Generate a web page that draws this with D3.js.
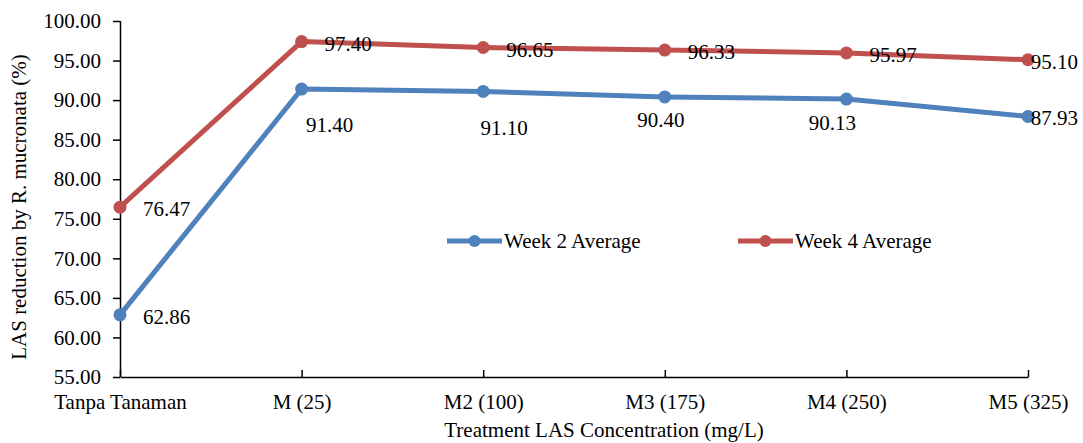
<!DOCTYPE html>
<html>
<head>
<meta charset="utf-8">
<script src="https://cdn.jsdelivr.net/npm/d3@7"></script>
<style>
  html, body { margin: 0; padding: 0; background: #fff; }
  svg { display: block; font-family: "Liberation Serif", "Times New Roman", serif; }
</style>
</head>
<body>
<svg id="chart" width="1083" height="443"></svg>
<script>
// values
const categories = ["Tanpa Tanaman", "M (25)", "M2 (100)", "M3 (175)", "M4 (250)", "M5 (325)"];
const week2 = [62.86, 91.40, 91.10, 90.40, 90.13, 87.93];
const week4 = [76.47, 97.40, 96.65, 96.33, 95.97, 95.10];
const seriesNames = ["Week 2 Average", "Week 4 Average"];
const yTicks = [55, 60, 65, 70, 75, 80, 85, 90, 95, 100];

const W = 1083, H = 443;
const margin = { top: 21, right: 55, bottom: 66, left: 120 };
const colors = ["#4f81bd", "#c0504d"];
const fontSize = 21;

// Excel labels that were dragged below the blue line (relative nudges)
const belowShift = [null, [28, 36], [21, 37], [-4, 23], [-14, 24], null];

const svg = d3.select("#chart");

const x = d3.scalePoint()
    .domain(categories)
    .range([margin.left, W - margin.right]);

const y = d3.scaleLinear()
    .domain([55, 100])
    .range([H - margin.bottom, margin.top]);

// y axis
const yAxis = svg.append("g")
    .attr("transform", `translate(${margin.left},0)`)
    .call(d3.axisLeft(y).tickValues(yTicks).tickFormat(d3.format(".2f")).tickSize(7).tickPadding(12));
yAxis.select(".domain").attr("stroke", "#000").attr("stroke-width", 1.5)
    .attr("d", `M0.5,${y(100)}V${y(55)}`);
yAxis.selectAll(".tick line").attr("stroke", "#000").attr("stroke-width", 1.5);
yAxis.selectAll(".tick text")
    .attr("font-size", fontSize)
    .attr("font-family", "Liberation Serif")
    .attr("fill", "#000");

// x axis, ticks pointing up into the plot
const xAxis = svg.append("g")
    .attr("transform", `translate(0,${H - margin.bottom})`)
    .call(d3.axisBottom(x).tickSizeInner(-7).tickSizeOuter(0).tickPadding(0));
xAxis.select(".domain").attr("stroke", "#000").attr("stroke-width", 1.5);
xAxis.selectAll(".tick line").attr("stroke", "#000").attr("stroke-width", 1.5);
xAxis.selectAll(".tick text")
    .attr("font-size", fontSize)
    .attr("font-family", "Liberation Serif")
    .attr("fill", "#000")
    .attr("y", 32)
    .attr("dy", 0);

// axis titles
svg.append("text")
    .attr("x", (margin.left + W - margin.right) / 2 + 30)
    .attr("y", 437)
    .attr("text-anchor", "middle")
    .attr("font-size", fontSize)
    .text("Treatment LAS Concentration (mg/L)");

svg.append("text")
    .attr("transform", `translate(26,${(y(100) + y(55)) / 2 + 8}) rotate(-90)`)
    .attr("text-anchor", "middle")
    .attr("font-size", fontSize)
    .text("LAS reduction by R. mucronata (%)");

// lines and markers
const line = d3.line()
    .x((d, i) => x(categories[i]))
    .y(d => y(d));

[week2, week4].forEach((values, s) => {
    const g = svg.append("g");
    g.append("path")
        .datum(values)
        .attr("fill", "none")
        .attr("stroke", colors[s])
        .attr("stroke-width", 5)
        .attr("stroke-linejoin", "round")
        .attr("d", line);
    g.selectAll("circle")
        .data(values)
        .join("circle")
        .attr("cx", (d, i) => x(categories[i]))
        .attr("cy", d => y(d))
        .attr("r", 6.5)
        .attr("fill", colors[s]);
});

// data labels
function addLabels(values, s) {
    const g = svg.append("g")
        .attr("font-size", fontSize)
        .attr("fill", "#000");
    values.forEach((v, i) => {
        const px = x(categories[i]), py = y(v);
        const t = g.append("text").text(v.toFixed(2));
        const shift = s === 0 ? belowShift[i] : null;
        if (shift) {
            t.attr("x", px + shift[0]).attr("y", py + shift[1] + 7).attr("text-anchor", "middle");
        } else {
            t.attr("y", py + 9);
            const w = t.node().getComputedTextLength();
            t.attr("x", Math.min(px + 23, W - 5 - w));
        }
    });
}
addLabels(week2, 0);
addLabels(week4, 1);

// legend
const legend = svg.append("g")
    .attr("transform", "translate(447,241)");
seriesNames.forEach((name, s) => {
    const item = legend.append("g").attr("transform", `translate(${s * 291},0)`);
    item.append("line")
        .attr("x1", 0).attr("x2", 55)
        .attr("stroke", colors[s])
        .attr("stroke-width", 5);
    item.append("circle")
        .attr("cx", 27.5)
        .attr("r", 6)
        .attr("fill", colors[s]);
    item.append("text")
        .attr("x", 57)
        .attr("y", 7)
        .attr("font-size", fontSize)
        .text(name);
});
</script>
</body>
</html>
